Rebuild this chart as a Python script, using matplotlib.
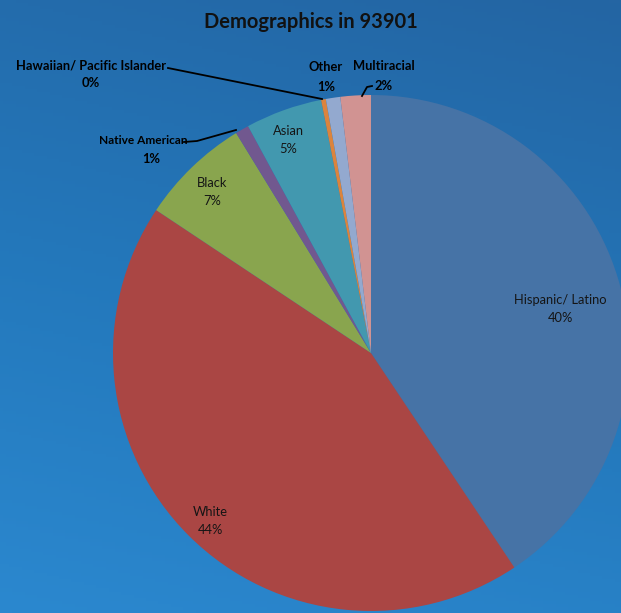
import numpy as np
import matplotlib
matplotlib.use("Agg")
import matplotlib.pyplot as plt
from matplotlib.colors import LinearSegmentedColormap

categories = ["Hispanic/ Latino", "White", "Black", "Native American", "Asian",
              "Hawaiian/ Pacific Islander", "Other", "Multiracial"]
values = [40.6, 43.7, 6.9, 0.85, 4.8, 0.3, 0.9, 1.9]
pct_labels = ["40%", "44%", "7%", "1%", "5%", "0%", "1%", "2%"]
colors = ["#4673a6", "#aa4644", "#89a54e", "#71588f", "#4298af", "#db843d", "#93a9cf", "#d19392"]
title = "Demographics in 93901"

W, H = 621, 613
fig = plt.figure(figsize=(W / 100, H / 100), dpi=100)

# background gradient
bg = fig.add_axes([0, 0, 1, 1])
bg.set_axis_off()
yy, xx = np.mgrid[0:1:200j, 0:1:200j]
grad = 0.8 * yy + 0.2 * (1 - xx)
cmap = LinearSegmentedColormap.from_list("bg", ["#2465a3", "#2377ba", "#2b88cf"])
bg.imshow(grad, cmap=cmap, aspect="auto", extent=[0, 1, 0, 1], origin="upper")
bg.set_xlim(0, 1)
bg.set_ylim(0, 1)

ax = fig.add_axes([0, 0, 1, 1])
ax.set_axis_off()
ax.set_xlim(0, W)
ax.set_ylim(0, H)
ax.set_aspect("equal")

cx, cy, r = 371, H - 353, 258
ax.pie(values, colors=colors, startangle=90, counterclock=False,
       center=(cx, cy), radius=r, wedgeprops=dict(linewidth=0),
       frame=True)
ax.set_xlim(0, W)
ax.set_ylim(0, H)
ax.set_axis_off()

font = ["Lato", "DejaVu Sans"]
name_pos = [(560, 300), (210, 512), (212, 183), (143, 141), (288, 131),
            (91, 65), (326, 67), (384, 66)]
pct_pos = [(560, 318), (210, 530), (212, 201), (151, 159), (288, 149),
           (91, 83), (326, 87), (384, 86)]
name_sizes = [9.3, 9.3, 9.3, 8.6, 9.3, 9.3, 9.3, 9.3]
outside = [False, False, False, True, False, True, True, True]
for name, pct, (x, y), (px, py), fs, out in zip(categories, pct_labels, name_pos,
                                                 pct_pos, name_sizes, outside):
    kw = dict(ha="center", va="center", family=font,
              color="#000000" if out else "#151515",
              fontweight="bold" if out else "normal")
    ax.text(x, H - y, name, fontsize=fs, **kw)
    ax.text(px, H - py, pct, fontsize=9.3, **kw)

# leader lines
ax.plot([168, 322], [H - 68, H - 99], color="black", lw=1.3)
ax.plot([184, 197, 236], [H - 142, H - 141, H - 130], color="black", lw=1.3)
ax.plot([372, 367, 362], [H - 86, H - 87, H - 96], color="black", lw=1.3)

fig.text(311 / W, 1 - 22 / H, title, ha="center", va="center", fontsize=14.5,
         fontweight="bold", family=font, color="#111111")

fig.savefig("out.png", dpi=100)
